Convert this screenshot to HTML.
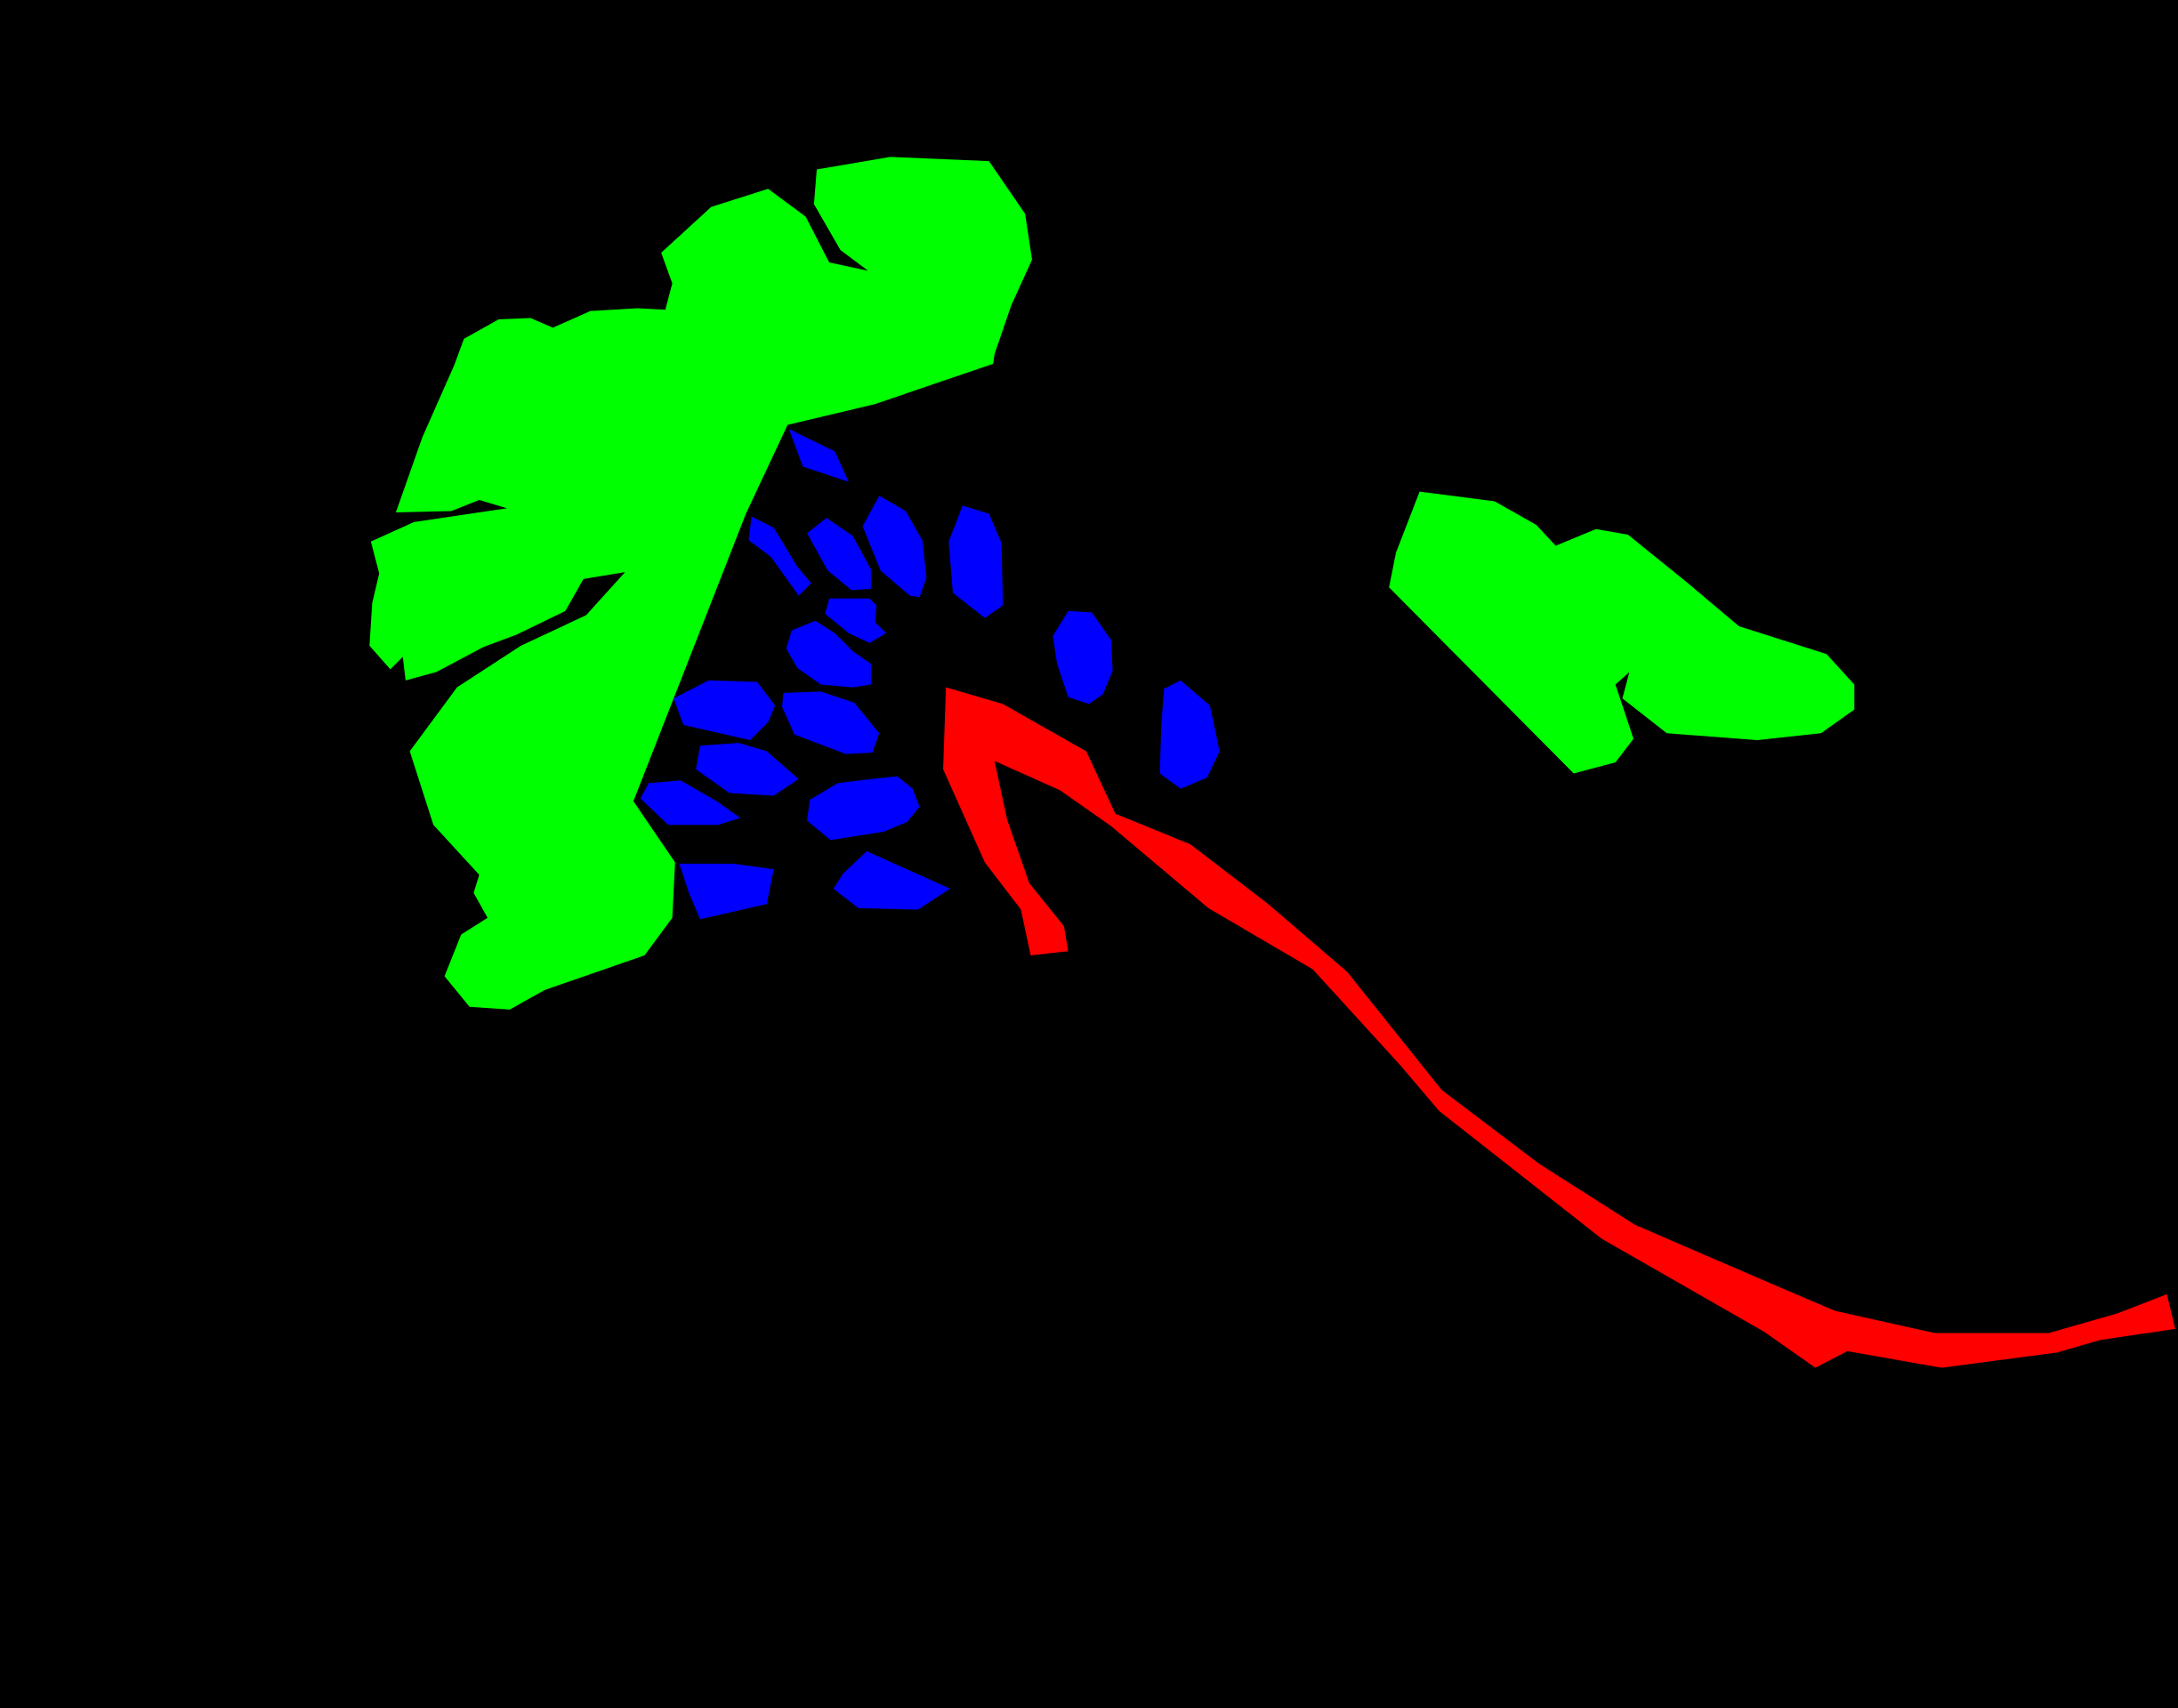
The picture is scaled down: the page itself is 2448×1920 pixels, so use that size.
<!DOCTYPE html>
<html><head><meta charset="utf-8"><style>
html,body{margin:0;padding:0;background:#000;width:2448px;height:1920px;overflow:hidden}
svg{display:block}
</style></head><body>
<svg width="2448" height="1920" viewBox="0 0 1568 1230" preserveAspectRatio="none" xmlns="http://www.w3.org/2000/svg">
<rect x="0" y="0" width="1568" height="1230" fill="#000"/>
<polygon fill="#00ff00" points="588,122 641,113 712,116 738,154 743,187 728,220 716,255 715,262 630,291 567,306 537,370 456,577 486,621 484,661 464,688 392,713 367,727 338,725 320,703 332,673 351,661 341,643 345,630 312,594 295,541 329,495 375,465 422,443 450,412 420,417 407,440 372,457 348,466 314,484 292,490 290,473 281,482 266,465 268,434 273,413 267,390 298,376 365,366 345,360 325,368 285,369 304,315 327,263 334,244 359,230 382,229 398,236 425,224 459,222 479,223 484,204 476,182 512,149 553,136 580,156 597,189 625,195 605,180 586,147"/>
<polygon fill="#00ff00" points="1022,354 1076,361 1106,378 1120,393 1149,381 1172,385 1214,419 1252,451 1315,471 1335,493 1335,511 1311,528 1265,533 1200,528 1168,503 1173,484 1163,493 1176,532 1163,549 1133,557 1000,423 1005,398"/>
<polygon fill="#ff0000" points="681,495 722,507 782,541 803,586 857,608 913,651 970,700 1038,785 1108,838 1177,882 1258,917 1321,944 1393,960 1475,960 1524,946 1560,932 1566,957 1512,965 1481,974 1398,985 1330,973 1307,985 1270,959 1153,892 1036,800 1008,767 945,698 870,654 800,595 763,569 716,548 725,590 741,636 766,667 769,685 742,688 735,655 709,621 679,554"/>
<g fill="#0000ff">
<polygon points="568,309 601,325 611,347 578,336"/>
<polygon points="541,372 557,380 574,408 584,420 575,429 555,401 539,389"/>
<polygon points="581,384 595,373 614,386 627,410 627,424 613,425 596,411"/>
<polygon points="621,379 633,357 652,368 664,389 667,416 662,430 655,429 634,411"/>
<polygon points="683,390 693,364 712,370 721,391 722,436 709,445 686,427"/>
<polygon points="597,431 626,431 631,436 630,448 638,456 626,463 611,456 594,442"/>
<polygon points="570,454 587,447 601,456 614,469 627,478 627,493 614,495 591,493 574,481 566,467"/>
<polygon points="485,503 510,490 545,491 558,508 553,520 540,533 492,522"/>
<polygon points="564,499 591,498 615,506 633,528 628,542 609,543 572,529 563,509"/>
<polygon points="758,458 769,440 786,441 800,461 801,483 794,500 784,507 769,502 761,478"/>
<polygon points="838,496 850,490 871,508 878,541 869,560 850,568 835,557 836,523"/>
<polygon points="504,537 532,535 552,541 575,561 557,573 525,571 501,554"/>
<polygon points="467,564 490,562 516,577 533,589 517,594 481,594 461,575"/>
<polygon points="583,576 603,564 627,561 646,559 657,568 662,581 653,592 636,599 598,605 581,591"/>
<polygon points="489,622 528,622 557,626 552,651 504,662 496,643"/>
<polygon points="607,629 624,613 684,640 661,655 618,654 600,640"/>
</g>
</svg>
</body></html>
